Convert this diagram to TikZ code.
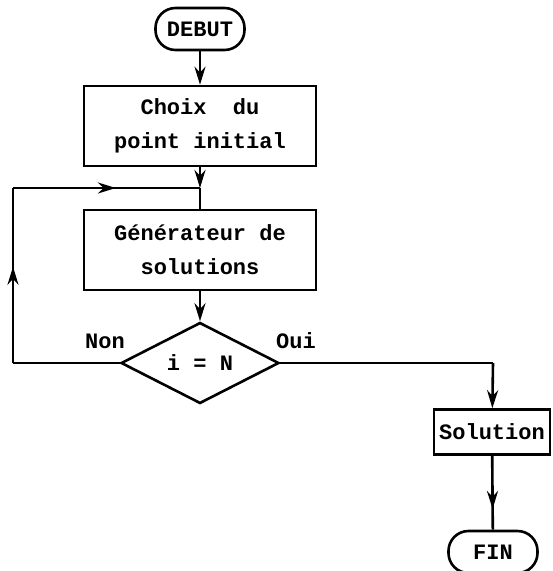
\documentclass[tikz,border=0pt]{standalone}
\usepackage{fontspec}
\setmonofont{Liberation Mono}
\usetikzlibrary{arrows.meta,shapes.geometric,decorations.markings}
\begin{document}
\begin{tikzpicture}[x=1pt,y=-1pt,
  line width=2.6pt,
  every node/.style={font=\ttfamily\bfseries\fontsize{22}{34}\selectfont},
  tip/.style={-{Stealth[length=18pt,width=11pt]}},
  midarrow/.style={postaction={decorate},decoration={markings,
    mark=at position #1 with {\arrow{Stealth[length=18pt,width=11pt]}}}},
  procbox/.style={draw,rectangle,align=center,inner sep=0pt},
  terminal/.style={draw,rectangle,rounded corners=20pt,inner sep=0pt,
    minimum width=89pt,minimum height=42pt},
  test/.style={draw,diamond,inner sep=0pt,aspect=1.95,
    minimum width=158pt,minimum height=81pt},
  tag/.style={inner sep=0pt}]
  \useasboundingbox (0,0) rectangle (553,571);
  \clip (0,0) rectangle (553,571);

  % nodes
  \node[terminal] (debut) at (200,29) {DEBUT};
  \node[procbox,minimum width=232pt,minimum height=80pt] (choix) at (200,126)
    {Choix\ \ du\\point initial};
  \node[procbox,minimum width=232pt,minimum height=80pt] (gen) at (200,250)
    {Générateur de\\solutions};
  \node[test] (dec) at (200,363) {i = N};
  \node[procbox,minimum width=116pt,minimum height=45pt] (sol) at (492,432)
    {Solution};
  \node[terminal] (fin) at (493,552) {FIN};

  % labels of the two exits
  \node[tag] (non) at (105,341) {Non};
  \node[tag] (oui) at (296,341) {Oui};

  % junction points
  \coordinate (j) at (200,188);
  \coordinate (lu) at (13,188);
  \coordinate (ll) at (13,363);
  \coordinate (rr) at (493,363);

  % main flow
  \draw[tip] (debut) -- (choix);
  \draw[tip] (choix) -- (j);
  \draw (j) -- (gen);
  \draw[tip] (gen) -- (dec.north);

  % loop back on "Non"
  \draw (dec.west) -- (ll);
  \draw[midarrow=0.55] (ll) -- (lu);
  \draw[midarrow=0.55] (lu) -- (j);

  % exit on "Oui"
  \draw (dec.east) -- (rr);
  \draw[tip] (rr) -- (sol);
  \draw[midarrow=0.72] (sol) -- (fin);
\end{tikzpicture}
\end{document}
